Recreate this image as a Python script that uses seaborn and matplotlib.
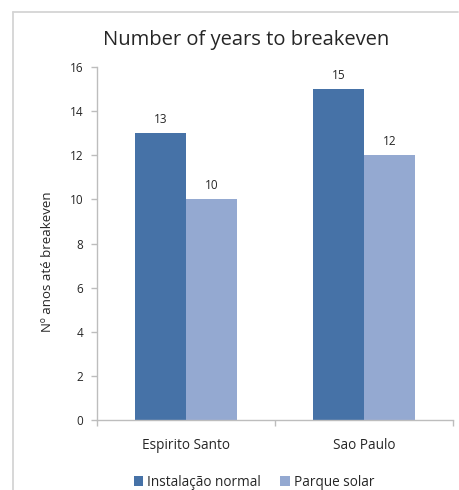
import matplotlib
matplotlib.use("Agg")
import matplotlib.pyplot as plt
from matplotlib.lines import Line2D
from matplotlib.patches import Patch
import seaborn as sns
import pandas as pd

regions = ["Espirito Santo", "Sao Paulo"]
series = ["Instalação normal", "Parque solar"]
normal_years = [13, 15]
solar_years = [10, 12]
y_ticks = [0, 2, 4, 6, 8, 10, 12, 14, 16]

colors = ["#4672A7", "#94A9D1"]
axis_gray = "#BDBDBD"
text_color = "#262626"

df = pd.DataFrame({
    "region": regions * 2,
    "series": [series[0]] * len(regions) + [series[1]] * len(regions),
    "years": normal_years + solar_years,
})

sns.set_theme(style="white")
plt.rcParams["font.family"] = ["Open Sans", "DejaVu Sans"]

W, H = 459, 490
fig = plt.figure(figsize=(W / 100, H / 100), dpi=100)
ax = fig.add_axes([97 / W, 1 - 420 / H, (453 - 97) / W, (420 - 67) / H])

sns.barplot(data=df, x="region", y="years", hue="series", order=regions,
            hue_order=series, palette=colors, width=0.573, saturation=1,
            linewidth=0, ax=ax, legend=False)

for cont in ax.containers:
    ax.bar_label(cont, labels=[f"{v:.0f}" for v in cont.datavalues],
                 padding=5, fontsize=8.5, color=text_color)

ax.set_ylim(0, 16)
ax.set_xlim(-0.5, 1.5)
ax.set_yticks(y_ticks)
ax.set_yticklabels([str(t) for t in y_ticks], fontsize=8.5, color=text_color)
ax.set_xticks([0, 1])
ax.set_xticklabels(regions, fontsize=9.8, color=text_color)
ax.set_xlabel("")
ax.set_ylabel("Nº anos até breakeven", fontsize=9.5, color=text_color)
ax.yaxis.set_label_coords(-0.120, 0.448)

for side in ["top", "right"]:
    ax.spines[side].set_visible(False)
for side in ["left", "bottom"]:
    ax.spines[side].set_color(axis_gray)
    ax.spines[side].set_linewidth(1.0)

ax.tick_params(axis="y", which="major", left=True, length=4, width=1,
               color=axis_gray, pad=6)
ax.tick_params(axis="x", which="major", bottom=False, pad=7)
# category boundary ticks on the x axis
ax.set_xticks([-0.5, 0.5, 1.5], minor=True)
ax.tick_params(axis="x", which="minor", bottom=True, length=4, width=1,
               color=axis_gray)

fig.text(246 / W, 1 - 40 / H, "Number of years to breakeven", ha="center",
         va="center", fontsize=14.5, color=text_color)

handles = [Patch(facecolor=c, edgecolor="none") for c in colors]
fig.legend(handles, series, loc="center", bbox_to_anchor=(254 / W, 1 - 482 / H),
           ncol=2, frameon=False, fontsize=9.8, handlelength=0.7,
           handleheight=0.7, handletextpad=0.3, columnspacing=1.4,
           labelcolor=text_color)

# chart area frame
frame_color = "#D4D4D4"
fig.add_artist(Line2D([13 / W, 458 / W], [1 - 12 / H, 1 - 12 / H],
                      transform=fig.transFigure, color=frame_color, lw=1.3))
fig.add_artist(Line2D([13 / W, 13 / W], [1 - 12 / H, 0],
                      transform=fig.transFigure, color=frame_color, lw=1.3))

fig.savefig("out.png", dpi=100)
